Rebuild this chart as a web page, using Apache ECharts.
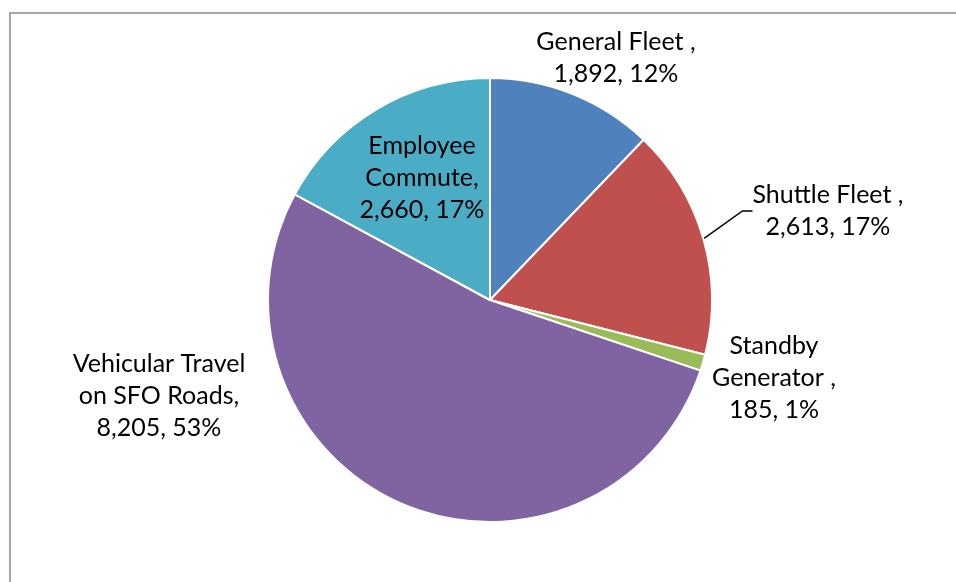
<!DOCTYPE html>
<html>
<head>
<meta charset="utf-8">
<script src="https://cdn.jsdelivr.net/npm/echarts@6/dist/echarts.min.js"></script>
<style>
  html, body { margin: 0; padding: 0; background: #fff; }
  #chart { width: 956px; height: 582px; }
</style>
</head>
<body>
<div id="chart"></div>
<script>
// Emission sources (clockwise from 12 o'clock) and their totals
var sources = ['General Fleet ', 'Shuttle Fleet ', 'Standby\nGenerator ', 'Vehicular Travel\non SFO Roads', 'Employee\nCommute'];
var emissions = [1892, 2613, 185, 8205, 2660];
var sliceColors = ['#4F81BD', '#C0504D', '#9BBB59', '#8064A2', '#4BACC6'];

// Where each label block sits (centre of the text block)
var labelSpots = [
  { x: 616, y: 58 },
  { x: 828, y: 211 },
  { x: 774, y: 378 },
  { x: 159, y: 396 },
  { x: 422, y: 178 }
];

function fmt(n) {
  return n.toLocaleString('en-US');
}

var data = sources.map(function (name, i) {
  return {
    name: name,
    value: emissions[i],
    itemStyle: { color: sliceColors[i] },
    labelLine: { show: i === 1 }
  };
});

var chart = echarts.init(document.getElementById('chart'), null, { renderer: 'canvas' });
chart.setOption({
  backgroundColor: '#ffffff',
  animation: false,
  graphic: [{
    type: 'rect',
    shape: { x: 10, y: 13, width: 1000, height: 700 },
    style: { fill: 'none', stroke: '#8a8a8a', lineWidth: 1.5 },
    silent: true
  }],
  series: [{
    type: 'pie',
    center: [490, 300],
    radius: 222,
    startAngle: 90,
    clockwise: true,
    data: data,
    itemStyle: { borderColor: '#ffffff', borderWidth: 2 },
    label: {
      show: true,
      position: 'outside',
      color: '#000000',
      fontFamily: 'Lato',
      fontSize: 25,
      lineHeight: 32,
      align: 'center',
      formatter: function (p) {
        return p.name + ',\n' + fmt(p.value) + ', ' + Math.round(p.percent) + '%';
      }
    },
    labelLine: {
      show: false,
      length: 15,
      length2: 10,
      lineStyle: { color: '#000000', width: 1.5 }
    },
    labelLayout: function (params) {
      var s = labelSpots[params.dataIndex];
      return { x: s.x, y: s.y, align: 'center', verticalAlign: 'middle' };
    }
  }]
});
</script>
</body>
</html>
